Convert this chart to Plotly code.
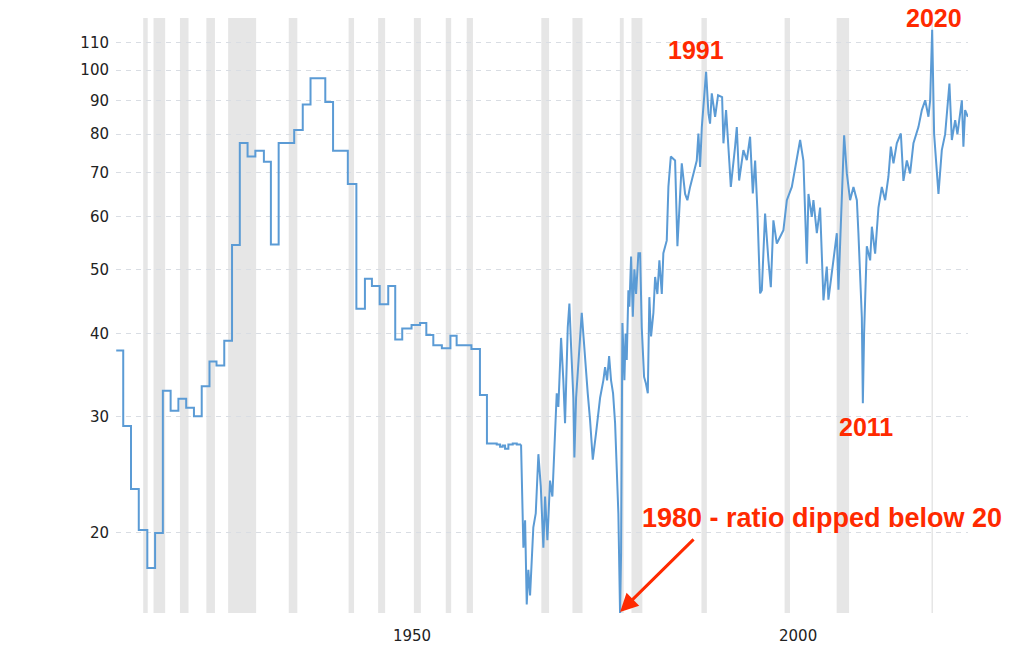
import plotly.graph_objects as go
import math

# ---- Data: gold / silver ratio ----
# Early annual (step) data
step_years = [1915.2, 1916.1, 1917.1, 1918.1, 1919.2, 1920.2, 1921.2, 1922.2, 1923.2, 1924.2,
              1925.2, 1926.2, 1927.2, 1928.1, 1929.1, 1930.1, 1931.1, 1932.1, 1933.1, 1934.2,
              1935.1, 1936.1, 1938.1, 1939.2, 1940.2, 1942.1, 1943.1, 1945.0, 1946.1, 1947.2,
              1948.1, 1949.1, 1950.2, 1951.1, 1952.0, 1953.2, 1954.3, 1955.1, 1956.0, 1957.1,
              1958.2, 1959.0, 1960.9, 1962.0, 1962.9, 1964.16, 1964.59, 1964.93, 1965.23,
              1965.66, 1966.22, 1966.74, 1967.29]
step_ratio = [37.7, 29.0, 23.3, 20.2, 17.7, 20.0, 32.8, 30.6, 31.9, 30.9,
              30.0, 33.3, 36.3, 35.8, 39.0, 54.4, 77.6, 74.0, 75.5, 72.7,
              54.5, 77.6, 81.2, 88.7, 97.2, 89.5, 75.5, 67.3, 43.6, 48.4,
              47.2, 44.3, 47.2, 39.2, 40.7, 41.2, 41.5, 39.8, 38.4, 38.0,
              39.7, 38.4, 37.9, 32.3, 27.3, 27.2, 27.0, 27.1, 26.8,
              27.2, 27.3, 27.2, 27.2]

# Later market data
mkt_years = [1967.29, 1967.46, 1967.59, 1967.81, 1968.02, 1968.23, 1968.45, 1968.87, 1969.18, 1969.52,
             1969.83, 1970.16, 1970.38, 1970.68, 1971.02, 1971.32, 1971.67, 1971.88, 1972.09, 1972.44,
             1972.73, 1972.95, 1973.30, 1973.51, 1973.73, 1974.02, 1974.15, 1974.37, 1975.10, 1975.53,
             1975.87, 1976.17, 1976.52, 1976.94, 1977.46, 1977.88, 1978.10, 1978.36, 1978.62, 1978.87,
             1979.13, 1979.39, 1979.81, 1980.03, 1980.16, 1980.33, 1980.59, 1980.74, 1980.89, 1981.10,
             1981.23, 1981.45, 1981.67, 1981.87, 1982.09, 1982.39, 1982.61, 1982.82, 1983.12, 1983.34,
             1983.60, 1983.80, 1984.02, 1984.32, 1984.54, 1984.83, 1985.09, 1985.40, 1985.60, 1986.04,
             1986.25, 1986.56, 1987.11, 1987.41, 1987.75, 1987.97, 1988.40, 1988.69, 1989.04, 1989.47,
             1989.90, 1990.11, 1990.33, 1990.55, 1990.88, 1991.10, 1991.40, 1991.61, 1991.83, 1992.26,
             1992.64, 1993.16, 1993.33, 1993.67, 1994.10, 1994.28, 1994.83, 1995.05, 1995.35, 1995.90,
             1996.34, 1996.76, 1997.11, 1997.41, 1997.70, 1998.05, 1998.27, 1998.69, 1999.12, 1999.43,
             1999.76, 2000.20, 2001.05, 2001.49, 2002.13, 2002.77, 2003.20, 2003.62, 2004.06, 2004.27,
             2004.70, 2004.91, 2005.35, 2005.77, 2006.20, 2006.63, 2006.84, 2007.48, 2007.92, 2008.13,
             2008.56, 2008.86, 2009.21, 2009.63, 2010.06, 2010.50, 2010.70, 2011.14, 2011.27, 2011.43,
             2011.78, 2012.21, 2012.43, 2012.85, 2013.28, 2013.71, 2014.14, 2014.56, 2014.87, 2015.21,
             2015.64, 2016.16, 2016.49, 2016.93, 2017.35, 2017.78, 2018.42, 2018.86, 2019.29, 2019.71,
             2019.93, 2020.19, 2020.44, 2020.79, 2021.00, 2021.43, 2021.86, 2022.41, 2022.72, 2023.15,
             2023.44, 2024.01, 2024.21, 2024.43, 2024.78]
mkt_ratio = [27.2, 20.9, 19.0, 20.9, 15.6, 17.6, 16.1, 20.4, 21.4, 26.3,
             23.5, 19.0, 22.7, 19.5, 24.0, 22.7, 29.6, 32.5, 31.0, 39.4,
             34.0, 29.3, 40.9, 44.4, 38.2, 32.0, 26.0, 32.0, 43.0, 36.0,
             32.5, 29.6, 25.8, 28.3, 32.0, 34.0, 35.6, 34.0, 37.0, 34.0,
             32.5, 29.3, 21.4, 15.1, 18.6, 41.5, 34.0, 40.0, 36.5, 46.5,
             43.9, 52.3, 42.4, 50.0, 45.9, 52.9, 52.9, 40.9, 34.4, 33.7,
             32.5, 45.4, 39.6, 43.0, 48.7, 45.9, 51.6, 45.9, 52.9, 55.3,
             66.6, 74.0, 73.0, 54.2, 66.6, 72.3, 65.0, 63.6, 66.6, 69.8,
             73.0, 80.2, 71.4, 82.0, 92.2, 99.4, 86.0, 83.0, 92.2, 85.0,
             91.6, 91.0, 77.5, 87.0, 72.3, 66.6, 76.6, 82.0, 68.1, 75.7,
             73.1, 79.3, 65.1, 73.0, 61.4, 46.0, 46.5, 60.7, 51.6, 47.0,
             59.3, 54.7, 57.3, 63.6, 66.6, 74.0, 78.4, 73.0, 51.0, 65.0,
             60.0, 63.6, 56.7, 62.0, 44.9, 50.5, 45.0, 51.6, 56.7, 46.6,
             66.6, 79.7, 69.8, 63.6, 66.6, 63.6, 56.7, 42.3, 31.4, 40.0,
             54.2, 51.6, 58.0, 52.8, 62.0, 66.6, 63.6, 69.0, 76.6, 72.3,
             77.5, 80.2, 68.0, 73.0, 69.8, 77.5, 82.0, 87.0, 90.0, 85.0,
             90.0, 115.0, 80.0, 69.0, 65.0, 75.7, 80.0, 95.4, 78.4, 84.0,
             80.0, 90.0, 76.6, 87.0, 85.0]

# US recessions (start, end) in decimal years
recessions = [(1918.67, 1919.25), (1920.0, 1921.5), (1923.4, 1924.5), (1926.8, 1927.9),
              (1929.6, 1933.2), (1937.4, 1938.5), (1945.1, 1945.8), (1948.9, 1949.8),
              (1953.5, 1954.4), (1957.6, 1958.3), (1960.3, 1961.1), (1969.9, 1970.9),
              (1973.9, 1975.2), (1980.0, 1980.5), (1981.5, 1982.9), (1990.5, 1991.2),
              (2001.2, 2001.9), (2007.9, 2009.5), (2020.1, 2020.3)]

y_ticks = [20, 30, 40, 50, 60, 70, 80, 90, 100, 110]
x_tick_pos = [1953.26, 2002.94]
x_tick_text = ["1950", "2000"]

LINE = "#5b9bd5"
RED = "#ff2a00"

fig = go.Figure()
fig.add_trace(go.Scatter(x=step_years, y=step_ratio, mode="lines",
                         line=dict(color=LINE, width=2, shape="hv"), hoverinfo="x+y"))
fig.add_trace(go.Scatter(x=mkt_years, y=mkt_ratio, mode="lines",
                         line=dict(color=LINE, width=2), hoverinfo="x+y"))

for s, e in recessions:
    fig.add_shape(type="rect", xref="x", yref="paper", x0=s, x1=e, y0=0, y1=1,
                  fillcolor="#e6e6e6", line=dict(width=0), layer="below")

ann_font = dict(family="Liberation Sans, Arial, sans-serif", size=25, color=RED)
long_font = dict(family="Liberation Sans, Arial, sans-serif", size=27, color=RED)
fig.add_annotation(x=1989.81, y=math.log10(107.2), text="<b>1991</b>", showarrow=False,
                   font=ann_font, xanchor="center", yanchor="middle")
fig.add_annotation(x=2020.44, y=math.log10(119.8), text="<b>2020</b>", showarrow=False,
                   font=ann_font, xanchor="center", yanchor="middle")
fig.add_annotation(x=2011.69, y=math.log10(28.9), text="<b>2011</b>", showarrow=False,
                   font=ann_font, xanchor="center", yanchor="middle")
fig.add_annotation(x=2006.03, y=math.log10(21.05), text="<b>1980 - ratio dipped below 20</b>",
                   showarrow=False, font=long_font, xanchor="center", yanchor="middle")
fig.add_annotation(x=1980.03, y=math.log10(15.2), text="", showarrow=True,
                   arrowhead=2, arrowsize=1.2, arrowwidth=3, arrowcolor=RED,
                   ax=75, ay=-74, standoff=0)

fig.update_layout(
    width=1024, height=646,
    margin=dict(l=116, r=56, t=18, b=33),
    paper_bgcolor="white", plot_bgcolor="white",
    showlegend=False,
    font=dict(family="DejaVu Sans, Verdana, sans-serif", size=15, color="#333333"),
    xaxis=dict(range=[1915.17, 2024.8], showgrid=False, zeroline=False, showline=False,
               automargin=False,
               tickmode="array", tickvals=x_tick_pos, ticktext=x_tick_text,
               ticks="", ticklabelstandoff=12, tickfont=dict(size=15, color="#222222")),
    yaxis=dict(type="log", range=[1.1802, 2.0785], showgrid=True, gridcolor="#d9dde3",
               automargin=False,
               griddash="5px,5px", gridwidth=1, zeroline=False, showline=False,
               tickmode="array", tickvals=y_ticks, ticktext=[str(v) for v in y_ticks],
               ticks="", ticklabelstandoff=6, tickfont=dict(size=15, color="#222222")),
)

fig.write_html("out.html")
